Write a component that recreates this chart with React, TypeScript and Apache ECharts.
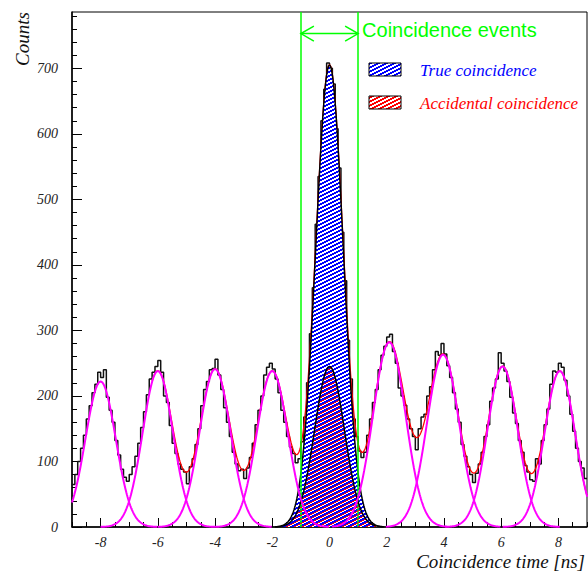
import React, { useEffect, useRef } from "react";
import * as echarts from "echarts";

// ---------------- data ----------------
const histStart = -9; // ns, left edge of first bin
const histBinWidth = 0.1; // ns
const histCounts = [
  65, 80, 100, 120, 140, 165, 185, 205, 218, 236,
  228, 240, 198, 178, 160, 132, 110, 88, 76, 70,
  80, 92, 108, 128, 152, 176, 202, 226, 236, 245,
  254, 236, 200, 190, 155, 128, 112, 96, 88, 84,
  66, 92, 104, 126, 150, 185, 210, 222, 240, 242,
  256, 232, 210, 182, 160, 138, 114, 96, 86, 88,
  74, 90, 106, 128, 156, 178, 200, 232, 244, 250,
  241, 226, 205, 178, 160, 138, 122, 112, 98,
  104, 130, 168, 220, 295, 365, 462, 535, 620, 668,
  708, 700, 676, 608, 548, 450, 376, 285, 226, 165, 138,
  116, 106, 114, 140, 165, 190, 210, 240, 262, 276,
  290, 294, 268, 250, 212, 200, 186, 165, 150, 138,
  118, 150, 168, 172, 200, 214, 240, 268, 262, 280,
  264, 246, 228, 205, 180, 160, 126, 108, 92, 80,
  68, 82, 96, 114, 138, 156, 192, 212, 226, 266,
  250, 238, 222, 198, 174, 158, 132, 114, 94, 84,
  72, 70, 104, 96, 132, 156, 180, 218, 238, 236,
  250, 244, 224, 200, 172, 146, 120, 100, 90, 74,
];

// Gaussian fits of the accidental peaks (magenta)
const peakMeans = [-8.0, -6.0, -4.0, -2.0, 2.09, 3.97, 6.05, 8.05];
const peakHeights = [222, 238, 241, 238, 282, 263, 245, 238];
const peakSigmas = [0.53, 0.53, 0.54, 0.54, 0.57, 0.56, 0.53, 0.53];

// central peak: true + accidental component
const trueFit = { height: 460, mean: 0, sigma: 0.46 };
const accFit = { height: 245, mean: 0, sigma: 0.52 };

const totalFitRange = [-6.2, 9];
const coincidenceWindow = [-1, 1];
const arrowLevel = 753;

const xTickValues = [-8, -6, -4, -2, 0, 2, 4, 6, 8];
const xMinorTickValues = [
  -9, -8.5, -8, -7.5, -7, -6.5, -6, -5.5, -5, -4.5, -4, -3.5, -3, -2.5, -2, -1.5, -1, -0.5,
  0, 0.5, 1, 1.5, 2, 2.5, 3, 3.5, 4, 4.5, 5, 5.5, 6, 6.5, 7, 7.5, 8, 8.5, 9,
];
const yTickValues = [0, 100, 200, 300, 400, 500, 600, 700];
const yMinorTickValues = Array.from({ length: 40 }, (_, i) => i * 20);

const xRange = [-9, 9];
const yRange = [0, 786];

// ---------------- helpers ----------------
const gauss = (a: number, mu: number, s: number, x: number) =>
  a * Math.exp(-((x - mu) * (x - mu)) / (2 * s * s));

function sample(f: (x: number) => number, from: number, to: number, step = 0.02) {
  const out: number[][] = [];
  const n = Math.round((to - from) / step);
  for (let i = 0; i <= n; i++) {
    const x = +(from + i * step).toFixed(4);
    out.push([x, f(x)]);
  }
  return out;
}

function makeHatch(color: string, bg: string | null, rowOffset: number, thick: number) {
  const c = document.createElement("canvas");
  c.width = 8;
  c.height = 4;
  const ctx = c.getContext("2d")!;
  if (bg) {
    ctx.fillStyle = bg;
    ctx.fillRect(0, 0, 8, 4);
  }
  ctx.fillStyle = color;
  for (let x = 0; x < 8; x++) {
    const r = (3 - Math.floor(x / 2) + rowOffset + 8) % 4;
    for (let t = 0; t < thick; t++) ctx.fillRect(x, (r + t) % 4, 1, 1);
  }
  return { image: c.toDataURL(), repeat: "repeat", imageWidth: 8, imageHeight: 4 } as any;
}

export default function App() {
  const ref = useRef<HTMLDivElement>(null);

  useEffect(() => {
    if (!ref.current) return;
    const chart = echarts.init(ref.current, undefined, { renderer: "svg" });

    const bluePattern = makeHatch("#0000ff", "#ffffff", 0, 2);
    const redPattern = makeHatch("#ff0000", null, 2, 1);
    const redLegendPattern = makeHatch("#ff0000", "#ffffff", 2, 2);

    const histData: number[][] = histCounts.map((v, i) => [+(histStart + i * histBinWidth).toFixed(2), v]);
    histData.push([+(histStart + histCounts.length * histBinWidth).toFixed(2), histCounts[histCounts.length - 1]]);

    const trueF = (x: number) => gauss(trueFit.height, trueFit.mean, trueFit.sigma, x);
    const accF = (x: number) => gauss(accFit.height, accFit.mean, accFit.sigma, x);
    const centralTotal = sample((x) => trueF(x) + accF(x), -1.9, 1.9);
    const accCurve = sample(accF, -1.9, 1.9);
    const totalFit = sample(
      (x) =>
        trueF(x) +
        accF(x) +
        peakMeans.reduce((s, m, i) => s + gauss(peakHeights[i], m, peakSigmas[i], x), 0),
      totalFitRange[0],
      totalFitRange[1]
    );

    const magentaSeries = peakMeans.map((m, i) => ({
      type: "line",
      data: sample(
        (x) => gauss(peakHeights[i], m, peakSigmas[i], x),
        Math.max(xRange[0], +(m - 2).toFixed(2)),
        Math.min(xRange[1], +(m + 2).toFixed(2))
      ),
      showSymbol: false,
      silent: true,
      lineStyle: { color: "#ff00ff", width: 2 },
      z: 6,
    }));

    const labelFont = {
      fontFamily: "Liberation Serif",
      fontStyle: "italic",
      fontSize: 14,
      color: "#222",
    };

    chart.setOption({
      animation: false,
      backgroundColor: "#ffffff",
      grid: {
        left: 72,
        right: 1,
        top: 12,
        bottom: 44,
        show: true,
        borderColor: "#000",
        borderWidth: 1,
      },
      xAxis: [
        {
          type: "value",
          min: xRange[0],
          max: xRange[1],
          position: "bottom",
          axisLine: { show: true, onZero: false, lineStyle: { color: "#000", width: 1.5 } },
          axisTick: { show: true, inside: true, length: 9, customValues: xTickValues, lineStyle: { color: "#000" } },
          axisLabel: { customValues: xTickValues, margin: 8, ...labelFont },
          splitLine: { show: false },
        },
        {
          type: "value",
          min: xRange[0],
          max: xRange[1],
          position: "bottom",
          axisLine: { show: false, onZero: false },
          axisTick: { show: true, inside: true, length: 5, customValues: xMinorTickValues, lineStyle: { color: "#000" } },
          axisLabel: { show: false },
          splitLine: { show: false },
        },
      ],
      yAxis: [
        {
          type: "value",
          min: yRange[0],
          max: yRange[1],
          position: "left",
          axisLine: { show: true, onZero: false, lineStyle: { color: "#000", width: 1.5 } },
          axisTick: { show: true, inside: true, length: 10, customValues: yTickValues, lineStyle: { color: "#000" } },
          axisLabel: { customValues: yTickValues, margin: 14, ...labelFont },
          splitLine: { show: false },
        },
        {
          type: "value",
          min: yRange[0],
          max: yRange[1],
          position: "left",
          axisLine: { show: false, onZero: false },
          axisTick: { show: true, inside: true, length: 5, customValues: yMinorTickValues, lineStyle: { color: "#000" } },
          axisLabel: { show: false },
          splitLine: { show: false },
        },
      ],
      series: [
        {
          type: "line",
          name: "Histogram",
          data: histData,
          step: "end",
          showSymbol: false,
          silent: true,
          lineStyle: { color: "#111", width: 1.5 },
          z: 2,
        },
        {
          type: "line",
          name: "Total fit",
          data: totalFit,
          showSymbol: false,
          silent: true,
          lineStyle: { color: "#ff0000", width: 1.3 },
          z: 3,
        },
        {
          type: "line",
          name: "True coincidence",
          data: centralTotal,
          showSymbol: false,
          silent: true,
          lineStyle: { color: "#000", width: 1.5 },
          areaStyle: { color: bluePattern, opacity: 1 },
          z: 4,
        },
        {
          type: "line",
          name: "Accidental coincidence",
          data: accCurve,
          showSymbol: false,
          silent: true,
          lineStyle: { color: "#000", width: 1.5 },
          areaStyle: { color: redPattern, opacity: 1 },
          z: 5,
        },
        ...magentaSeries,
        {
          type: "line",
          name: "window",
          data: [],
          z: 7,
          markLine: {
            silent: true,
            symbol: "none",
            animation: false,
            label: { show: false },
            lineStyle: { color: "#00ff00", width: 1.5, type: "solid" },
            data: coincidenceWindow.map((v) => ({ xAxis: v })),
          },
        },
      ],
    });

    const pL = chart.convertToPixel({ gridIndex: 0 }, [coincidenceWindow[0], arrowLevel]) as number[];
    const pR = chart.convertToPixel({ gridIndex: 0 }, [coincidenceWindow[1], arrowLevel]) as number[];
    const green = "#00ff00";
    const head = 13;
    const hw = 7.5;

    chart.setOption({
      graphic: [
        {
          type: "polyline",
          z: 100,
          shape: { points: [[pL[0], pL[1]], [pR[0], pR[1]]] },
          style: { stroke: green, lineWidth: 1.5, fill: "none" },
        },
        {
          type: "polyline",
          z: 100,
          shape: { points: [[pL[0] + head, pL[1] - hw], [pL[0], pL[1]], [pL[0] + head, pL[1] + hw]] },
          style: { stroke: green, lineWidth: 1.5, fill: "none" },
        },
        {
          type: "polyline",
          z: 100,
          shape: { points: [[pR[0] - head, pR[1] - hw], [pR[0], pR[1]], [pR[0] - head, pR[1] + hw]] },
          style: { stroke: green, lineWidth: 1.5, fill: "none" },
        },
        {
          type: "text",
          z: 100,
          x: pR[0] + 4,
          y: pR[1] - 4,
          style: {
            text: "Coincidence events",
            fill: green,
            font: '20px "Liberation Sans"',
            textAlign: "left",
            textVerticalAlign: "middle",
          },
        },
        {
          type: "rect",
          z: 100,
          shape: { x: 369, y: 63, width: 32, height: 13 },
          style: { fill: bluePattern, stroke: "#000", lineWidth: 1 },
        },
        {
          type: "text",
          z: 100,
          x: 420,
          y: 70,
          style: {
            text: "True coincidence",
            fill: "#0000ff",
            font: 'italic 17px "Liberation Serif"',
            textAlign: "left",
            textVerticalAlign: "middle",
          },
        },
        {
          type: "rect",
          z: 100,
          shape: { x: 369, y: 96, width: 32, height: 13 },
          style: { fill: redLegendPattern, stroke: "#000", lineWidth: 1 },
        },
        {
          type: "text",
          z: 100,
          x: 420,
          y: 103,
          style: {
            text: "Accidental coincidence",
            fill: "#ff0000",
            font: 'italic 17px "Liberation Serif"',
            textAlign: "left",
            textVerticalAlign: "middle",
          },
        },
        {
          type: "text",
          z: 100,
          x: 22,
          y: 39,
          rotation: Math.PI / 2,
          style: {
            text: "Counts",
            fill: "#111",
            font: 'italic 19px "Liberation Serif"',
            textAlign: "center",
            textVerticalAlign: "middle",
          },
        },
        {
          type: "text",
          z: 100,
          x: 585,
          y: 561,
          style: {
            text: "Coincidence time [ns]",
            fill: "#111",
            font: 'italic 19px "Liberation Serif"',
            textAlign: "right",
            textVerticalAlign: "middle",
          },
        },
      ],
    });

    return () => chart.dispose();
  }, []);

  return (
    <div
      ref={ref}
      style={{ position: "fixed", left: 0, top: 0, width: 588, height: 571, background: "#fff" }}
    />
  );
}
